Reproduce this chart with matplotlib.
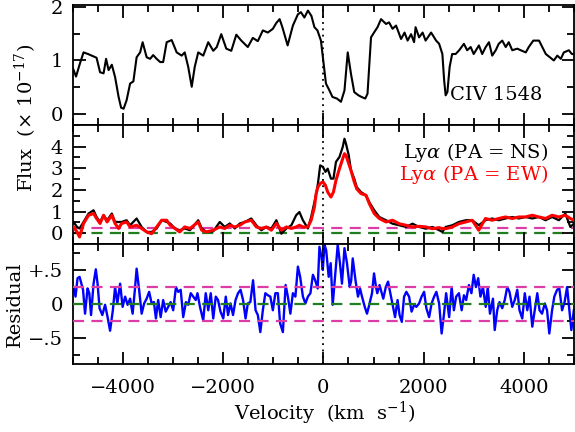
import matplotlib
matplotlib.use('Agg')
import matplotlib.pyplot as plt
from matplotlib.ticker import MultipleLocator

# CIV 1548 spectrum (top panel)
civ_v = [-5000, -4940, -4860, -4790, -4700, -4600, -4530, -4460, -4390, -4340, -4290, -4225,
         -4160, -4090, -4040, -3990, -3930, -3860, -3795, -3730, -3660, -3610, -3530, -3460,
         -3400, -3330, -3260, -3200, -3130, -3030, -2930, -2830, -2770, -2700, -2630, -2570,
         -2500, -2400, -2300, -2200, -2130, -2040, -1940, -1840, -1740, -1640, -1510, -1410,
         -1310, -1210, -1110, -1010, -940, -875, -820, -715, -610, -510, -450, -380, -310,
         -240, -180, -120, -50, 10, 50, 120, 180, 270, 350, 420, 485, 550, 615, 700, 760,
         835, 880, 950, 1010, 1080, 1150, 1250, 1310, 1380, 1450, 1550, 1620, 1680, 1750,
         1810, 1840, 1910, 1980, 2040, 2150, 2250, 2310, 2375, 2410, 2440, 2475, 2520, 2570,
         2640, 2710, 2805, 2870, 2940, 3000, 3105, 3170, 3240, 3305, 3370, 3440, 3500, 3570,
         3640, 3700, 3770, 3870, 3940, 4040, 4100, 4190, 4305, 4370, 4440, 4600, 4670, 4740,
         4800, 4900, 4960, 5000]
civ_flux = [0.85, 0.70, 0.95, 1.15, 1.12, 1.08, 1.05, 0.78, 0.76, 1.03, 0.82, 0.92,
            0.69, 0.32, 0.12, 0.10, 0.26, 0.57, 0.61, 1.06, 1.15, 1.34, 1.06, 1.03,
            1.10, 1.03, 0.97, 0.97, 1.34, 1.38, 1.15, 1.09, 1.15, 0.88, 0.51, 0.88,
            1.15, 1.09, 1.34, 1.18, 1.25, 1.49, 1.22, 1.18, 1.48, 1.37, 1.25, 1.42,
            1.36, 1.56, 1.52, 1.59, 1.70, 1.77, 1.62, 1.28, 1.65, 1.86, 1.90, 1.80, 1.93,
            1.83, 1.62, 1.56, 1.37, 0.88, 0.57, 0.44, 0.32, 0.29, 0.23, 0.44, 1.15, 0.75,
            0.41, 0.35, 0.32, 0.29, 0.38, 1.43, 1.52, 1.62, 1.77, 1.68, 1.71, 1.59, 1.65,
            1.40, 1.52, 1.37, 1.49, 1.34, 1.62, 1.43, 1.52, 1.37, 1.52, 1.37, 1.31, 1.12,
            0.63, 0.35, 0.41, 0.88, 1.12, 1.12, 1.19, 1.31, 1.19, 1.25, 1.12, 1.28, 1.12,
            1.25, 1.34, 1.09, 1.19, 1.31, 1.37, 1.25, 1.34, 1.19, 1.22, 1.19, 1.15, 1.25,
            1.37, 1.37, 1.25, 1.12, 1.00, 1.09, 1.03, 1.15, 1.19, 1.12, 1.12]

# Lya spectra (middle panel)
lya_v = [-4990, -4920, -4870, -4790, -4690, -4590, -4530, -4460, -4390, -4320, -4225, -4160,
         -4090, -4030, -3930, -3860, -3730, -3630, -3530, -3430, -3330, -3230, -3130, -3060,
         -2965, -2870, -2770, -2665, -2500, -2430, -2335, -2200, -2070, -1970, -1870, -1770,
         -1670, -1570, -1440, -1340, -1240, -1140, -1040, -940, -840, -740, -640, -545, -480,
         -410, -310, -245, -180, -145, -110, -65, -10, 40, 85, 150, 200, 250, 320, 385, 420,
         450, 505, 550, 615, 665, 750, 850, 915, 1015, 1115, 1250, 1380, 1510, 1645, 1780,
         1910, 2045, 2175, 2310, 2375, 2440, 2575, 2705, 2840, 2970, 3100, 3235, 3370, 3500,
         3635, 3770, 3900, 4035, 4170, 4300, 4435, 4565, 4700, 4830, 4930, 5000]
lya_ns = [0.52, 0.29, 0.22, 0.52, 0.91, 1.06, 0.75, 0.52, 0.83, 0.60, 0.91, 0.52,
          0.52, 0.52, 0.60, 0.37, 0.68, 0.29, 0.06, 0.06, 0.22, 0.60, 0.52, 0.45,
          0.22, 0.14, 0.22, 0.14, 0.60, 0.22, 0.06, 0.09, 0.52, 0.29, 0.45, 0.22,
          0.45, 0.52, 0.68, 0.37, 0.14, 0.29, 0.22, 0.60, -0.02, 0.22, 0.37, 0.83, 0.98,
          0.60, 0.22, 0.75, 1.44, 1.83, 2.29, 3.13, 3.06, 2.83, 2.98, 2.52, 2.52, 3.29, 3.52,
          3.98, 4.36, 4.13, 3.60, 2.90, 2.52, 2.13, 1.90, 1.75, 1.44, 1.06, 0.75, 0.60,
          0.44, 0.37, 0.29, 0.44, 0.29, 0.21, 0.29, 0.14, 0.06, 0.29, 0.37, 0.52, 0.60,
          0.60, 0.37, 0.60, 0.68, 0.60, 0.68, 0.75, 0.68, 0.75, 0.68, 0.75, 0.60, 0.75,
          0.60, 0.91, 0.29, 0.44]
lya_ew = [0.29, 0.06, -0.17, 0.45, 0.83, 0.91, 0.68, 0.45, 0.83, 0.52, 0.83, 0.45,
          0.22, 0.45, 0.52, 0.29, 0.37, 0.22, 0.06, -0.02, 0.29, 0.60, 0.60, 0.37,
          0.22, 0.06, 0.29, 0.22, 0.52, 0.14, 0.06, 0.14, 0.29, 0.22, 0.37, 0.29,
          0.37, 0.52, 0.60, 0.29, 0.22, 0.29, 0.14, 0.45, 0.14, 0.29, 0.22, 0.29, 0.37,
          0.29, 0.29, 0.60, 1.21, 1.83, 2.13, 2.29, 2.37, 2.21, 1.90, 1.67, 1.90, 2.44, 2.98,
          3.44, 3.67, 3.60, 3.21, 2.90, 2.37, 2.05, 1.83, 1.75, 1.37, 0.91, 0.68, 0.52,
          0.60, 0.44, 0.37, 0.29, 0.32, 0.29, 0.21, 0.26, 0.21, 0.21, 0.29, 0.44, 0.52,
          0.60, 0.14, 0.68, 0.60, 0.68, 0.75, 0.68, 0.75, 0.75, 0.83, 0.75, 0.68, 0.83,
          0.75, 0.83, 0.68, 0.60]

# residual (bottom panel)
res_v = [-4990, -4950, -4910, -4870, -4800, -4760, -4710, -4675, -4640, -4590, -4545, -4510,
         -4470, -4415, -4360, -4310, -4260, -4205, -4160, -4115, -4060, -4010, -3960, -3910,
         -3860, -3810, -3765, -3730, -3680, -3630, -3580, -3530, -3480, -3430, -3385, -3345,
         -3300, -3250, -3200, -3150, -3100, -3050, -3000, -2945, -2900, -2850, -2800, -2745,
         -2700, -2650, -2600, -2550, -2515, -2465, -2400, -2350, -2300, -2250, -2200, -2150,
         -2105, -2055, -2000, -1950, -1905, -1855, -1805, -1755, -1705, -1655, -1605, -1555,
         -1510, -1460, -1405, -1355, -1310, -1260, -1210, -1160, -1110, -1060, -1010, -960,
         -910, -865, -810, -755, -710, -660, -610, -560, -510, -465, -410, -360, -310, -260,
         -210, -165, -115, -80, -40, -13, 20, 55, 105, 145, 185, 225, 285, 330, 370, 420,
         470, 525, 555, 585, 640, 690, 730, 770, 825, 870, 915, 970, 1010, 1050, 1075, 1120,
         1195, 1245, 1290, 1335, 1395, 1430, 1480, 1520, 1565, 1610, 1655, 1710, 1760, 1810,
         1855, 1910, 1960, 2010, 2055, 2110, 2160, 2210, 2255, 2310, 2360, 2405, 2450, 2510,
         2560, 2605, 2650, 2705, 2760, 2805, 2850, 2905, 2955, 3000, 3045, 3090, 3135, 3185,
         3240, 3280, 3325, 3385, 3420, 3470, 3515, 3570, 3620, 3670, 3715, 3770, 3820, 3870,
         3915, 3970, 4020, 4070, 4115, 4170, 4220, 4270, 4315, 4365, 4420, 4465, 4510, 4565,
         4610, 4665, 4710, 4765, 4815, 4865, 4910, 4950, 5000]
res = [0.25, 0.11, 0.38, 0.40, 0.21, -0.14, 0.23, 0.16, -0.16, 0.30, 0.51, 0.30,
       -0.06, -0.16, -0.01, -0.19, -0.39, -0.09, 0.25, 0.01, 0.30, -0.04, 0.11, -0.01,
       0.08, -0.14, 0.21, 0.52, 0.21, -0.14, 0.01, 0.08, 0.18, 0.01, 0.03, -0.21,
       0.06, -0.19, 0.06, -0.11, -0.04, 0.03, -0.09, 0.25, 0.18, 0.21, -0.19, 0.03,
       -0.01, 0.16, 0.11, 0.06, 0.16, -0.04, -0.24, 0.16, -0.09, 0.16, -0.21, 0.11,
       0.06, -0.11, -0.21, 0.11, -0.16, 0.01, -0.16, 0.06, 0.16, 0.21, 0.06, -0.21,
       0.01, 0.03, 0.35, -0.09, -0.16, -0.41, -0.09, 0.16, 0.13, 0.11, -0.09, 0.16,
       0.16, -0.28, -0.41, 0.28, 0.11, -0.14, 0.16, 0.11, 0.55, 0.40, 0.11, 0.01, 0.11, 0.16,
       0.43, 0.35, 0.23, 0.84, 0.70, 0.50, 0.87, 0.79, 0.40, 0.60, -0.01, 0.35, 0.87, 0.60,
       0.30, 0.82, 0.60, 0.25, 0.35, 0.67, 0.35, 0.11, 0.23, 0.11, -0.04, -0.14, -0.01, 0.16,
       0.45, 0.25, 0.16, 0.28, 0.08, 0.25, 0.33, 0.16, -0.06, -0.19, 0.06, -0.16, -0.26,
       0.11, 0.18, 0.11, -0.11, -0.01, -0.04, 0.01, 0.11, 0.18, -0.06, -0.19, 0.01, 0.11,
       0.18, 0.01, -0.43, -0.16, 0.16, -0.19, 0.25, -0.09, 0.11, 0.16, -0.09, 0.13, 0.06,
       0.28, 0.16, 0.43, 0.25, 0.38, 0.11, 0.25, -0.04, 0.25, -0.14, 0.08, -0.38, -0.09,
       0.03, -0.06, 0.06, 0.25, 0.18, -0.04, 0.06, 0.21, -0.09, -0.21, 0.16, -0.09, 0.11,
       -0.33, -0.09, 0.16, -0.09, -0.14, 0.01, -0.09, -0.43, -0.09, 0.11, 0.21, 0.23, -0.09,
       0.03, 0.25, -0.09, -0.38, -0.09]

plt.rcParams['font.family'] = 'DejaVu Serif'
plt.rcParams['mathtext.fontset'] = 'dejavuserif'
plt.rcParams['axes.linewidth'] = 1.3

magenta = '#dc3ca5'
green = '#1f7f1f'
fs = 14

fig = plt.figure(figsize=(5.75, 4.32), dpi=100)
left, width = 0.127, 0.871
ax1 = fig.add_axes([left, 0.711, width, 0.277])
ax2 = fig.add_axes([left, 0.435, width, 0.276])
ax3 = fig.add_axes([left, 0.157, width, 0.278])

ax1.plot(civ_v, civ_flux, color='black', lw=1.5)
ax1.set_ylim(-0.2, 2.03)
ax1.set_yticks([0, 1, 2])
ax1.yaxis.set_minor_locator(MultipleLocator(0.5))
ax1.text(450 / 575, 1 - 95 / 432, 'CIV 1548', transform=fig.transFigure,
         ha='left', va='center', fontsize=fs)

ax2.axhline(0.22, color=magenta, lw=1.6, dashes=(5, 3.3), zorder=1)
ax2.axhline(0.0, color=green, lw=1.6, dashes=(5, 3.3), zorder=1)
ax2.plot(lya_v, lya_ns, color='black', lw=1.6, zorder=2)
ax2.plot(lya_v, lya_ew, color='red', lw=2.2, zorder=3)
ax2.set_ylim(-0.5, 5)
ax2.set_yticks([0, 1, 2, 3, 4])
ax2.yaxis.set_minor_locator(MultipleLocator(0.5))
ax2.text(548 / 575, 1 - 152 / 432, r'Ly$\alpha$ (PA = NS)', transform=fig.transFigure,
         ha='right', va='center', fontsize=fs, color='black')
ax2.text(548 / 575, 1 - 174 / 432, r'Ly$\alpha$ (PA = EW)', transform=fig.transFigure,
         ha='right', va='center', fontsize=fs, color='red')

ax3.plot(res_v, res, color='blue', lw=1.7, zorder=2)
for yy in (0.25, -0.25):
    ax3.axhline(yy, color=magenta, lw=1.6, dashes=(5, 3.3), zorder=3)
ax3.axhline(0.0, color=green, lw=1.6, dashes=(5, 3.3), zorder=3)
ax3.set_ylim(-0.88, 0.88)
ax3.set_yticks([-0.5, 0, 0.5])
ax3.set_yticklabels(['\u2212.5', '0', '+.5'])
ax3.yaxis.set_minor_locator(MultipleLocator(0.25))

for ax in (ax1, ax2, ax3):
    ax.axvline(0, color='black', lw=1.3, linestyle=(0, (1, 2.5)), zorder=4)
    ax.set_xlim(-5000, 5000)
    ax.xaxis.set_major_locator(MultipleLocator(2000))
    ax.xaxis.set_minor_locator(MultipleLocator(500))
    ax.tick_params(which='both', direction='in', top=True, right=True, width=1.3,
                   labelsize=fs)
    ax.tick_params(which='major', length=9)
    ax.tick_params(which='minor', length=5)
    ax.tick_params(axis='y', pad=7)
    ax.tick_params(axis='x', pad=11)

ax1.tick_params(labelbottom=False)
ax2.tick_params(labelbottom=False)

fig.text(325 / 575, 1 - 413 / 432, r'Velocity  (km  s$^{-1}$)', ha='center', va='center',
         fontsize=fs)
fig.text(26 / 575, 1 - 118 / 432, r'Flux  ($\times$ 10$^{-17}$)', rotation=90,
         ha='center', va='center', fontsize=fs)
fig.text(15 / 575, 1 - 304 / 432, 'Residual', rotation=90, ha='center', va='center',
         fontsize=fs)

fig.savefig('out.png', dpi=100)
